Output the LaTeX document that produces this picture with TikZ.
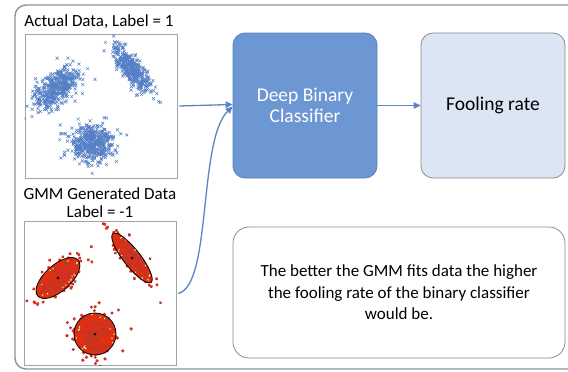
\documentclass[tikz,border=0pt]{standalone}
\usepackage{fontspec}
\setmainfont{Carlito}
\usetikzlibrary{arrows.meta}
\definecolor{framegray}{HTML}{8A929C}
\definecolor{boxgray}{HTML}{8C8C8C}
\definecolor{dbcfill}{HTML}{6C97D3}
\definecolor{dbcline}{HTML}{5A82BE}
\definecolor{frfill}{HTML}{DCE5F4}
\definecolor{arrblue}{HTML}{5A86C4}
\definecolor{ptblue}{HTML}{5580C6}
\definecolor{ptred}{HTML}{D8301A}
\definecolor{ellred}{HTML}{E0300E}
\definecolor{darkred}{HTML}{A83A3A}
\tikzset{
  outerframe/.style={draw=framegray, line width=1.4pt, rounded corners=11pt},
  plotbox/.style={draw=boxgray!80, line width=0.6pt, fill=white, minimum width=152pt, minimum height=144pt, inner sep=0pt},
  lbl/.style={font=\fontsize{17}{18}\selectfont, align=center, inner sep=0pt},
  dbcbox/.style={draw=dbcline, fill=dbcfill, line width=0.8pt, rounded corners=12pt, minimum width=144pt, minimum height=145pt, inner sep=0pt, text=white, font=\fontsize{19.5}{21}\selectfont, align=center},
  frbox/.style={draw=boxgray, fill=frfill, line width=0.8pt, rounded corners=12pt, minimum width=144pt, minimum height=145pt, inner sep=0pt, font=\fontsize{19.5}{21}\selectfont, align=center},
  notebox/.style={draw=boxgray, fill=white, line width=0.8pt, rounded corners=16pt, minimum width=332pt, minimum height=131pt, inner sep=0pt, font=\fontsize{17}{21.5}\selectfont, align=center},
  arr/.style={draw=arrblue, line width=1.3pt, -{Triangle[length=7pt,width=6.5pt]}},
  xmark/.style={draw=ptblue, line width=0.5pt},
  rdot/.style={fill=ptred},
}
% #1 cx, #2 cy, #3 angle, #4 sd major, #5 sd minor, #6 count
\newcommand\bluecluster[6]{%
 \foreach \k in {1,...,#6}{%
   \pgfmathsetmacro\pR{sqrt(-2*ln(0.001+0.998*rnd))}%
   \pgfmathsetmacro\pT{360*rnd}%
   \pgfmathsetmacro\pU{#4*\pR*cos(\pT)}%
   \pgfmathsetmacro\pV{#5*\pR*sin(\pT)}%
   \pgfmathsetmacro\pX{#1+\pU*cos(#3)+\pV*sin(#3)}%
   \pgfmathsetmacro\pY{#2-\pU*sin(#3)+\pV*cos(#3)}%
   \draw[xmark] (\pX,\pY) +(-1.5,-1.5) -- +(1.5,1.5) +(-1.5,1.5) -- +(1.5,-1.5);
 }}
% #7 x radius, #8 y radius
\newcommand\redcluster[8]{%
 \begin{scope}[shift={(#1,#2)},rotate=#3]
 \fill[ellred] (0,0) ellipse [x radius=#7, y radius=#8];
 \foreach \k in {1,...,#6}{%
   \pgfmathsetmacro\pR{sqrt(-2*ln(0.001+0.998*rnd))}%
   \pgfmathsetmacro\pT{360*rnd}%
   \pgfmathsetmacro\pX{#4*\pR*cos(\pT)}%
   \pgfmathsetmacro\pY{#5*\pR*sin(\pT)}%
   \pgfmathsetmacro\pC{rnd<0.3 ? 1 : 0}%
   \ifdim\pC pt>0.5pt
     \fill[darkred] (\pX,\pY) circle (1.6pt);
   \else
     \fill[rdot] (\pX,\pY) circle (1.8pt);
   \fi
 }
 \foreach \k in {1,...,16}{%
   \pgfmathsetmacro\pT{360*rnd}%
   \pgfmathsetmacro\pS{0.75+0.2*rnd}%
   \fill[yellow!30!white] ({#7*\pS*cos(\pT)},{#8*\pS*sin(\pT)}) circle (0.8pt);
 }
 \draw[black, line width=0.8pt] (0,0) ellipse [x radius=#7, y radius=#8];
 \fill[black!80!red] (0,0) circle (1.5pt);
 \end{scope}}
\begin{document}
\begin{tikzpicture}[x=1pt,y=-1pt]
\useasboundingbox (0,0) rectangle (568,372);
\clip (0,0) rectangle (568,372);
\fill[white] (0,0) rectangle (568,372);
\draw[outerframe] (15,5) rectangle (590,369);

\node[lbl] (lab1) at (99,22) {Actual Data, Label = 1};
\node[plotbox] (p1) at (101,106) {};
\node[lbl] (lab2) at (100,203) {GMM Generated Data\\Label = -1};
\node[plotbox] (p2) at (100,293.5) {};

\pgfmathsetseed{7}
\begin{scope}
\clip (p1.south west) rectangle (p1.north east);
\bluecluster{56}{89}{42}{14}{7}{420}
\bluecluster{132}{70}{-52}{15}{5}{380}
\bluecluster{92}{143}{0}{11}{10}{450}
\end{scope}

\begin{scope}
\clip (p2.south west) rectangle (p2.north east);
\redcluster{58}{278}{42}{13.5}{6.8}{170}{27}{13}
\redcluster{132}{258}{-52}{15.5}{4.6}{160}{31}{8.5}
\redcluster{95}{334}{0}{10.5}{10.5}{190}{21}{21}
\end{scope}

\node[dbcbox] (dbc) at (305,105.5) {Deep Binary\\Classifier};
\node[frbox] (fr) at (493,105.5) {Fooling rate};
\node[notebox] (note) at (399,292.5) {The better the GMM fits data the higher\\the fooling rate of the binary classifier\\would be.};

\draw[arr] ([xshift=2pt]p1.east) -- ([yshift=1pt]dbc.west);
\draw[arr] ([xshift=2pt]p2.east) .. controls (212,285) and (198,140) .. ([yshift=-1pt]dbc.west);
\draw[arr] (dbc.east) -- (fr.west);
\end{tikzpicture}
\end{document}
